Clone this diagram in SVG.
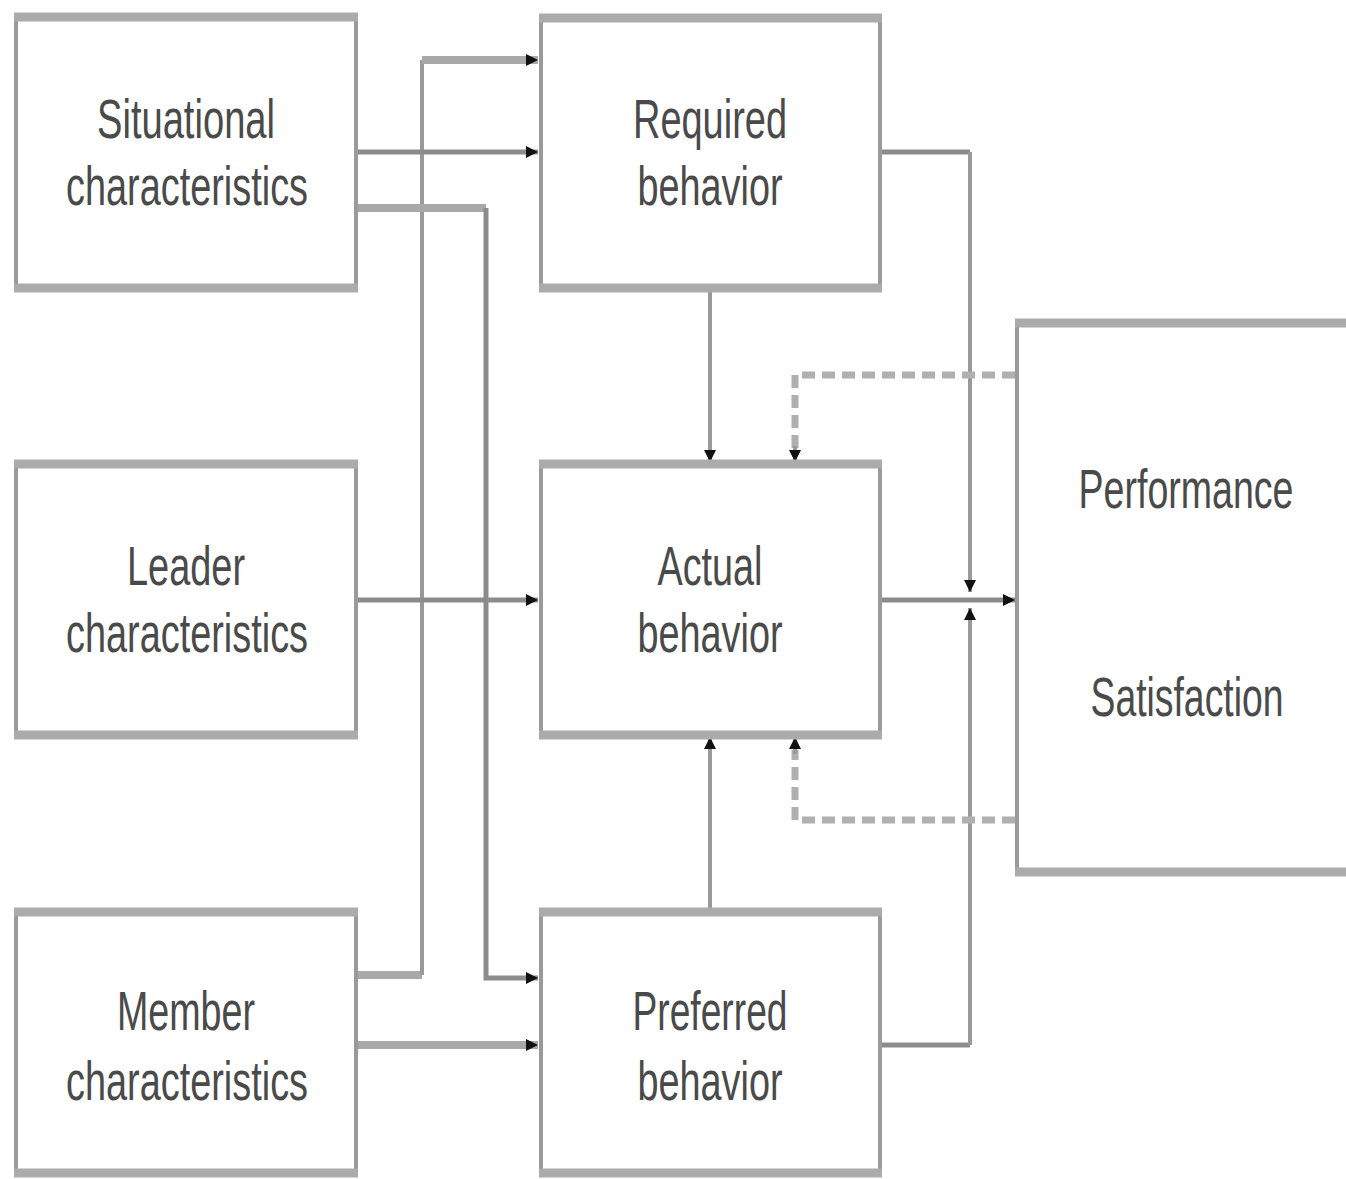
<svg xmlns="http://www.w3.org/2000/svg" width="1346" height="1179" viewBox="0 0 1346 1179">
<style>
.side{stroke:#9a9a9a;stroke-width:4;fill:none}
.tb{stroke:#ababab;stroke-width:9;fill:none}
.bg{fill:#ffffff}
.lbl{font-family:"Liberation Sans",Arial,sans-serif;font-size:55px;fill:#4a4a4a;text-anchor:middle}
.c1{stroke:#8c8c8c;stroke-width:5;fill:none}
.c2{stroke:#a8a8a8;stroke-width:8;fill:none}
.c3{stroke:#999;stroke-width:4;fill:none}
.dash{stroke:#b0b0b0;stroke-width:7;fill:none;stroke-dasharray:13,7}
</style>
<defs>
<marker id="ah" viewBox="0 0 10 10" refX="10" refY="5" markerWidth="12" markerHeight="12" markerUnits="userSpaceOnUse" orient="auto">
<path d="M0,0 L10,5 L0,10 z" fill="#111"/>
</marker>
</defs>
<rect width="1346" height="1179" fill="#ffffff"/>

<g id="connectors">
<path class="c2" d="M356,975 L422,975"/>
<path class="c3" d="M422,975 L422,60"/>
<path class="c2" d="M422,60 L538,60" marker-end="url(#ah)"/>
<path class="c1" d="M356,152 L538,152" marker-end="url(#ah)"/>
<path class="c2" d="M356,208 L486,208"/>
<path class="c1" d="M486,208 L486,978 L538,978" marker-end="url(#ah)"/>
<path class="c1" d="M356,600 L538,600" marker-end="url(#ah)"/>
<path class="c2" d="M356,1045 L538,1045" marker-end="url(#ah)"/>
<path class="c3" d="M710,290 L710,462" marker-end="url(#ah)"/>
<path class="c3" d="M710,910 L710,737" marker-end="url(#ah)"/>
<path class="c1" d="M880,152 L970,152"/>
<path class="c3" d="M970,152 L970,592" marker-end="url(#ah)"/>
<path class="c1" d="M880,1045 L970,1045"/>
<path class="c3" d="M970,1045 L970,608" marker-end="url(#ah)"/>
<path class="c1" d="M880,600 L1015,600" marker-end="url(#ah)"/>
<path class="dash" d="M1015,375 L795,375"/>
<path class="dash" d="M795,375 L795,450"/>
<path class="c3" d="M795,446 L795,462" marker-end="url(#ah)"/>
<path class="dash" d="M1015,820 L795,820"/>
<path class="dash" d="M795,820 L795,750"/>
<path class="c3" d="M795,754 L795,737" marker-end="url(#ah)"/>
</g>

<g id="situational">
<rect class="bg" x="16" y="17" width="340" height="271"/>
<path class="side" d="M16,17 L16,288 M356,17 L356,288"/>
<path class="tb" d="M14,17 L358,17 M14,288 L358,288"/>
<text class="lbl" x="186" y="138" textLength="178" lengthAdjust="spacingAndGlyphs">Situational</text>
<text class="lbl" x="187" y="205" textLength="242" lengthAdjust="spacingAndGlyphs">characteristics</text>
</g>

<g id="leader">
<rect class="bg" x="16" y="464" width="340" height="271"/>
<path class="side" d="M16,464 L16,735 M356,464 L356,735"/>
<path class="tb" d="M14,464 L358,464 M14,735 L358,735"/>
<text class="lbl" x="186" y="585" textLength="118" lengthAdjust="spacingAndGlyphs">Leader</text>
<text class="lbl" x="187" y="652" textLength="242" lengthAdjust="spacingAndGlyphs">characteristics</text>
</g>

<g id="member">
<rect class="bg" x="16" y="912" width="340" height="261"/>
<path class="side" d="M16,912 L16,1173 M356,912 L356,1173"/>
<path class="tb" d="M14,912 L358,912 M14,1173 L358,1173"/>
<text class="lbl" x="186" y="1030" textLength="138" lengthAdjust="spacingAndGlyphs">Member</text>
<text class="lbl" x="187" y="1100" textLength="242" lengthAdjust="spacingAndGlyphs">characteristics</text>
</g>

<g id="required">
<rect class="bg" x="541" y="18" width="339" height="270"/>
<path class="side" d="M541,18 L541,288 M880,18 L880,288"/>
<path class="tb" d="M539,18 L882,18 M539,288 L882,288"/>
<text class="lbl" x="710" y="138" textLength="154" lengthAdjust="spacingAndGlyphs">Required</text>
<text class="lbl" x="710" y="205" textLength="145" lengthAdjust="spacingAndGlyphs">behavior</text>
</g>

<g id="actual">
<rect class="bg" x="541" y="464" width="339" height="271"/>
<path class="side" d="M541,464 L541,735 M880,464 L880,735"/>
<path class="tb" d="M539,464 L882,464 M539,735 L882,735"/>
<text class="lbl" x="710" y="585" textLength="105" lengthAdjust="spacingAndGlyphs">Actual</text>
<text class="lbl" x="710" y="652" textLength="145" lengthAdjust="spacingAndGlyphs">behavior</text>
</g>

<g id="preferred">
<rect class="bg" x="541" y="912" width="339" height="261"/>
<path class="side" d="M541,912 L541,1173 M880,912 L880,1173"/>
<path class="tb" d="M539,912 L882,912 M539,1173 L882,1173"/>
<text class="lbl" x="710" y="1030" textLength="155" lengthAdjust="spacingAndGlyphs">Preferred</text>
<text class="lbl" x="710" y="1100" textLength="145" lengthAdjust="spacingAndGlyphs">behavior</text>
</g>

<g id="outcomes">
<rect class="bg" x="1017" y="323" width="329" height="549"/>
<path class="side" d="M1017,323 L1017,872"/>
<path class="tb" d="M1015,323 L1346,323 M1015,872 L1346,872"/>
<text class="lbl" x="1186" y="508" textLength="215" lengthAdjust="spacingAndGlyphs">Performance</text>
<text class="lbl" x="1187" y="716" textLength="193" lengthAdjust="spacingAndGlyphs">Satisfaction</text>
</g>
</svg>
